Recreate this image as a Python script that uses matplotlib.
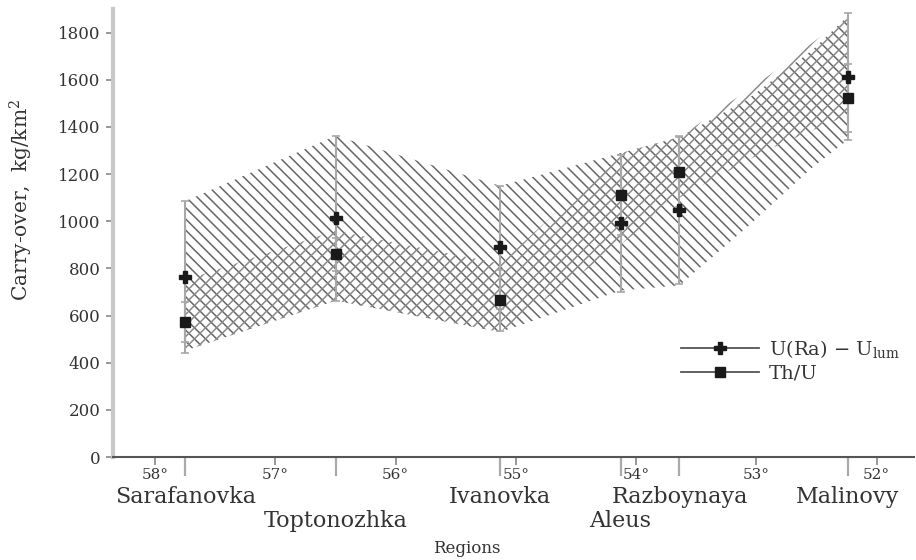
import numpy as np
import matplotlib
matplotlib.use('Agg')
import matplotlib.pyplot as plt
from matplotlib.lines import Line2D
from matplotlib.transforms import blended_transform_factory

# ---------- data

region_names = ['Sarafanovka', 'Toptonozhka', 'Ivanovka', 'Aleus', 'Razboynaya', 'Malinovy']
region_lat = [57.75, 56.5, 55.13, 54.13, 53.64, 52.24]
label_row = [0, 1, 0, 1, 0, 0]

u_ra = [762, 1013, 889, 991, 1047, 1613]
u_ra_err = [323, 350, 260, 290, 315, 270]
th_u = [574, 860, 664, 1111, 1209, 1523]
th_u_err = [85, 70, 130, 170, 150, 143]

# hatched bands (edges)
band_a_lat = [57.75, 56.5, 55.13, 54.13, 53.64, 53.08, 52.53, 52.24]
band_a_hi = [1085, 1362, 1150, 1289, 1357, 1515, 1728, 1870]
band_a_lo = [451, 663, 530, 706, 728, 974, 1230, 1345]

band_b_lat = [57.75, 56.5, 55.13, 54.13, 53.64, 52.91, 52.24]
band_b_hi = [750, 960, 820, 1289, 1357, 1613, 1870]
band_b_lo = [451, 663, 530, 900, 1100, 1302, 1450]

lat_ticks = [58, 57, 56, 55, 54, 53, 52]
y_ticks = [0, 200, 400, 600, 800, 1000, 1200, 1400, 1600, 1800]

# ---------- plot

plt.rcParams['font.family'] = ['DejaVu Serif']
plt.rcParams['mathtext.fontset'] = 'dejavuserif'
plt.rcParams['hatch.linewidth'] = 1.1
txt = '#333333'

fig = plt.figure(figsize=(9.16, 5.6), dpi=100)
ax = fig.add_axes([113/916, 1-457/560, 801/916, 448/560])

ax.fill_between(band_a_lat, band_a_lo, band_a_hi, facecolor='none',
                edgecolor='#666666', hatch='\\\\\\', linewidth=0)
ax.fill_between(band_b_lat, band_b_lo, band_b_hi, facecolor='none',
                edgecolor='#8a8a8a', hatch='///', linewidth=0)

ax.errorbar(region_lat, u_ra, yerr=u_ra_err, fmt='none', ecolor='#a8a8a8',
            elinewidth=1.5, capsize=3, capthick=1.2)
ax.errorbar(region_lat, th_u, yerr=th_u_err, fmt='none', ecolor='#a8a8a8',
            elinewidth=1.5, capsize=3, capthick=1.2)
ax.plot(region_lat, u_ra, 'P', color='#1a1a1a', ms=8, mec='#1a1a1a', ls='none')
ax.plot(region_lat, th_u, 's', color='#1a1a1a', ms=7, ls='none')

ax.set_xlim(58.35, 51.69)
ax.set_ylim(0, 1900)

ax.set_yticks(y_ticks)
ax.tick_params(axis='y', direction='out', length=5, width=1.2, color='#888888',
               labelsize=12, labelcolor=txt, pad=4)
ax.set_xticks(lat_ticks)
ax.set_xticklabels([f'{v}°' for v in lat_ticks])
ax.set_xticks(region_lat, minor=True)
ax.tick_params(axis='x', which='major', direction='out', length=6, width=1.2,
               color='#888888', labelsize=11, labelcolor=txt, pad=2)
ax.tick_params(axis='x', which='minor', direction='out', length=14, width=1.6,
               color='#aaaaaa')

for s in ['top', 'right']:
    ax.spines[s].set_visible(False)
ax.spines['left'].set_color('#c8c8c8')
ax.spines['left'].set_linewidth(3)
ax.spines['bottom'].set_color('#555555')
ax.spines['bottom'].set_linewidth(1.5)

trans = blended_transform_factory(ax.transData, ax.transAxes)
row_y = [-40/448, -64/448]
for name, lat, row in zip(region_names, region_lat, label_row):
    ax.text(lat, row_y[row], name, transform=trans, ha='center', va='center',
            fontsize=16, color=txt)

ax.set_xlabel('Regions', fontsize=12, color=txt)
ax.xaxis.set_label_coords(0.442, -83/448)
ax.set_ylabel('Carry-over,  kg/km$^2$', fontsize=14.5, color=txt)
ax.yaxis.set_label_coords(-0.097, 0.574)

handles = [Line2D([], [], color='#555555', lw=1.3, marker='P', ms=8,
                  mfc='#1a1a1a', mec='#1a1a1a'),
           Line2D([], [], color='#555555', lw=1.3, marker='s', ms=7,
                  mfc='#1a1a1a', mec='#1a1a1a')]
labels = ['U(Ra) $-$ U$_{\\rm lum}$', 'Th/U']
ax.legend(handles, labels, loc='upper left', bbox_to_anchor=(0.70, 0.283),
          frameon=False, fontsize=14, handlelength=4.0, labelcolor=txt,
          handletextpad=0.5, labelspacing=0.25, borderaxespad=0)

fig.savefig('out.png', dpi=100)
